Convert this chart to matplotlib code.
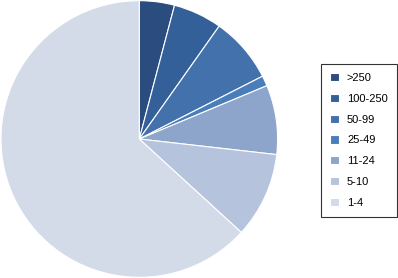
import matplotlib.pyplot as plt

# Share of firms by size class (in %)
labels = ['>250', '100-250', '50-99', '25-49', '11-24', '5-10', '1-4']
shares = [4.1, 5.7, 7.7, 1.2, 8.1, 10.0, 63.2]
colors = ['#2B4C7E', '#34609A', '#4271AC', '#4A7EBB', '#8EA5CB', '#B6C3DC', '#D3DAE8']

fig = plt.figure(figsize=(3.98, 2.78), dpi=100)
ax = fig.add_axes([0.0, 0.0, 0.7, 1.0])
ax.pie(shares, colors=colors, startangle=90, counterclock=False,
       wedgeprops=dict(edgecolor='white', linewidth=0.8), radius=1.0)
ax.set_aspect('equal')
ax.set_xlim(-1.005, 1.005)
ax.set_ylim(-1.005, 1.005)

leg = ax.legend(labels, loc='center left', bbox_to_anchor=(1.135, 0.495),
                frameon=True, fancybox=False, handlelength=0.75, handleheight=0.75,
                labelspacing=0.97, handletextpad=0.75, borderpad=0.8,
                prop={'family': 'Liberation Sans', 'size': 8})
leg.get_frame().set_edgecolor('black')
leg.get_frame().set_linewidth(0.8)

plt.savefig('out.png', dpi=100)
